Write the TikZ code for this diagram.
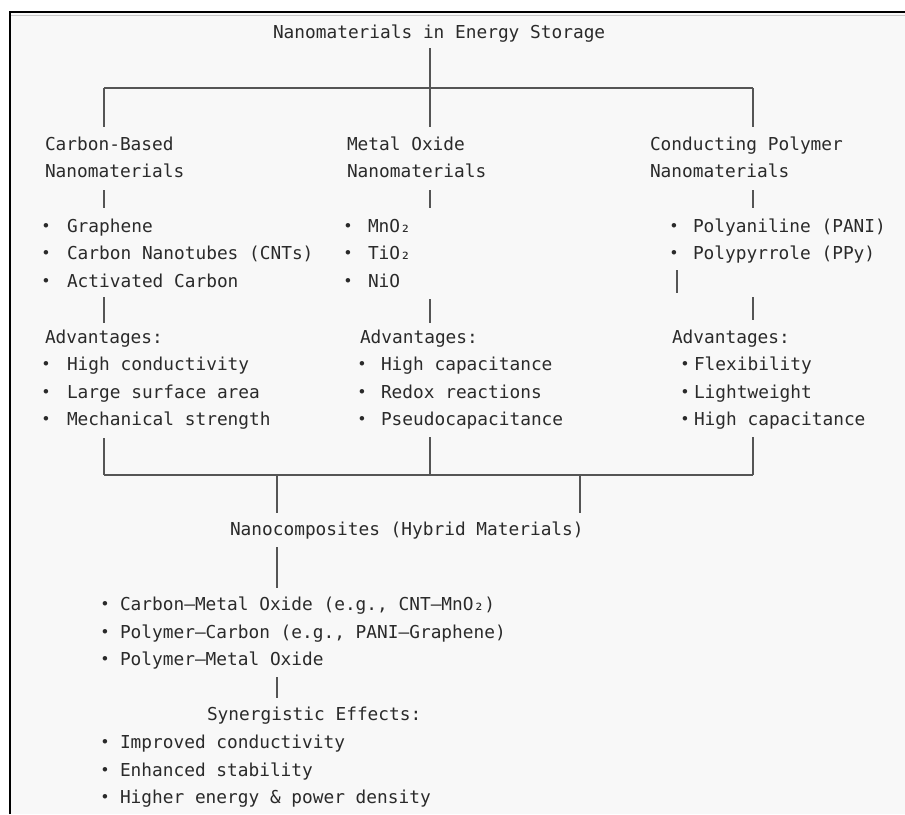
\documentclass[tikz,border=0pt]{standalone}
\usepackage{fontspec}
\newfontfamily\monof{DejaVu Sans Mono}
\definecolor{txt}{HTML}{2A2A2A}
\definecolor{ln}{HTML}{555555}
\definecolor{bg}{HTML}{F8F8F8}
\newcommand\bitem[2]{\makebox[0pt][c]{\raisebox{1.0pt}{\fontsize{15.5}{15.5}\selectfont •}}\hspace{#1}#2}
\begin{document}
\begin{tikzpicture}[x=1pt,y=-1pt,
  lbl/.style={anchor=base west,inner sep=0pt,outer sep=0pt,text=txt,font=\monof\fontsize{17.8}{20}\selectfont},
  conn/.style={draw=ln,line width=1.25pt}]
\useasboundingbox (0,0) rectangle (905,814);
\fill[white] (0,0) rectangle (905,814);
\fill[bg] (10,13) rectangle (905,814);
\draw[black,line width=2pt] (10,814) -- (10,12) -- (905,12);
\draw[black!22,line width=1pt] (11,15.5) -- (905,15.5);

% texts
\node[lbl] (title) at (273,38.5) {Nanomaterials in Energy Storage};
\node[lbl] (cb1) at (45,150.5) {Carbon-Based};
\node[lbl] (cb2) at (45,177.5) {Nanomaterials};
\node[lbl] (mo1) at (347,150.5) {Metal Oxide};
\node[lbl] (mo2) at (347,177.5) {Nanomaterials};
\node[lbl] (cp1) at (650,150.5) {Conducting Polymer};
\node[lbl] (cp2) at (650,177.5) {Nanomaterials};

\node[lbl] (cbi1) at (46,232.5) {\bitem{21pt}{Graphene}};
\node[lbl] (cbi2) at (46,259.5) {\bitem{21pt}{Carbon Nanotubes (CNTs)}};
\node[lbl] (cbi3) at (46,287.5) {\bitem{21pt}{Activated Carbon}};
\node[lbl] (moi1) at (348,232.5) {\bitem{20pt}{MnO₂}};
\node[lbl] (moi2) at (348,259.5) {\bitem{20pt}{TiO₂}};
\node[lbl] (moi3) at (348,287.5) {\bitem{20pt}{NiO}};
\node[lbl] (cpi1) at (674,232.5) {\bitem{19pt}{Polyaniline (PANI)}};
\node[lbl] (cpi2) at (674,259.5) {\bitem{19pt}{Polypyrrole (PPy)}};

\node[lbl] (cba) at (45,343.5) {Advantages:};
\node[lbl] (moa) at (360,343.5) {Advantages:};
\node[lbl] (cpa) at (672,343.5) {Advantages:};

\node[lbl] (cba1) at (46,370.5) {\bitem{21pt}{High conductivity}};
\node[lbl] (cba2) at (46,398.5) {\bitem{21pt}{Large surface area}};
\node[lbl] (cba3) at (46,425.5) {\bitem{21pt}{Mechanical strength}};
\node[lbl] (moa1) at (362,370.5) {\bitem{19pt}{High capacitance}};
\node[lbl] (moa2) at (362,398.5) {\bitem{19pt}{Redox reactions}};
\node[lbl] (moa3) at (362,425.5) {\bitem{19pt}{Pseudocapacitance}};
\node[lbl] (cpa1) at (685,370.5) {\bitem{9pt}{Flexibility}};
\node[lbl] (cpa2) at (685,398.5) {\bitem{9pt}{Lightweight}};
\node[lbl] (cpa3) at (685,425.5) {\bitem{9pt}{High capacitance}};

\node[lbl] (nc) at (230,535.5) {Nanocomposites (Hybrid Materials)};
\node[lbl] (nc1) at (105,610.5) {\bitem{15pt}{Carbon–Metal Oxide (e.g., CNT–MnO₂)}};
\node[lbl] (nc2) at (105,638.5) {\bitem{15pt}{Polymer–Carbon (e.g., PANI–Graphene)}};
\node[lbl] (nc3) at (105,665.5) {\bitem{15pt}{Polymer–Metal Oxide}};
\node[lbl] (se) at (207,720.5) {Synergistic Effects:};
\node[lbl] (se1) at (105,748.5) {\bitem{15pt}{Improved conductivity}};
\node[lbl] (se2) at (105,776.5) {\bitem{15pt}{Enhanced stability}};
\node[lbl] (se3) at (105,803.5) {\bitem{15pt}{Higher energy \& power density}};

% connector points
\coordinate (t0) at (430,48);
\coordinate (tj) at (430,88);
\coordinate (tl) at (104,88);
\coordinate (tr) at (753,88);
\coordinate (a1) at (104,127);
\coordinate (b1) at (430,127);
\coordinate (c1) at (753,127);
\coordinate (a2) at (104,190);   \coordinate (a2e) at (104,208);
\coordinate (b2) at (430,190);   \coordinate (b2e) at (430,208);
\coordinate (c2) at (753,190);   \coordinate (c2e) at (753,208);
\coordinate (a3) at (104,297);   \coordinate (a3e) at (104,323);
\coordinate (b3) at (430,299);   \coordinate (b3e) at (430,323);
\coordinate (p3) at (677,270);   \coordinate (p3e) at (677,293);
\coordinate (c3) at (753,297);   \coordinate (c3e) at (753,320);
\coordinate (a4) at (104,438);
\coordinate (b4) at (430,437);
\coordinate (c4) at (753,437);
\coordinate (bl) at (104,475);
\coordinate (bm) at (430,475);
\coordinate (br) at (753,475);
\coordinate (d1) at (277,475);   \coordinate (d1e) at (277,513);
\coordinate (d2) at (580,475);   \coordinate (d2e) at (580,513);
\coordinate (n1) at (277,547);   \coordinate (n1e) at (277,588);
\coordinate (n2) at (277,677);   \coordinate (n2e) at (277,698);

\draw[conn] (t0) -- (tj);
\draw[conn] (tl) -- (tr);
\draw[conn] (tl) -- (a1);
\draw[conn] (tj) -- (b1);
\draw[conn] (tr) -- (c1);
\draw[conn] (a2) -- (a2e);
\draw[conn] (b2) -- (b2e);
\draw[conn] (c2) -- (c2e);
\draw[conn] (a3) -- (a3e);
\draw[conn] (b3) -- (b3e);
\draw[conn] (p3) -- (p3e);
\draw[conn] (c3) -- (c3e);
\draw[conn] (a4) -- (bl);
\draw[conn] (b4) -- (bm);
\draw[conn] (c4) -- (br);
\draw[conn] (bl) -- (br);
\draw[conn] (d1) -- (d1e);
\draw[conn] (d2) -- (d2e);
\draw[conn] (n1) -- (n1e);
\draw[conn] (n2) -- (n2e);
\end{tikzpicture}
\end{document}
